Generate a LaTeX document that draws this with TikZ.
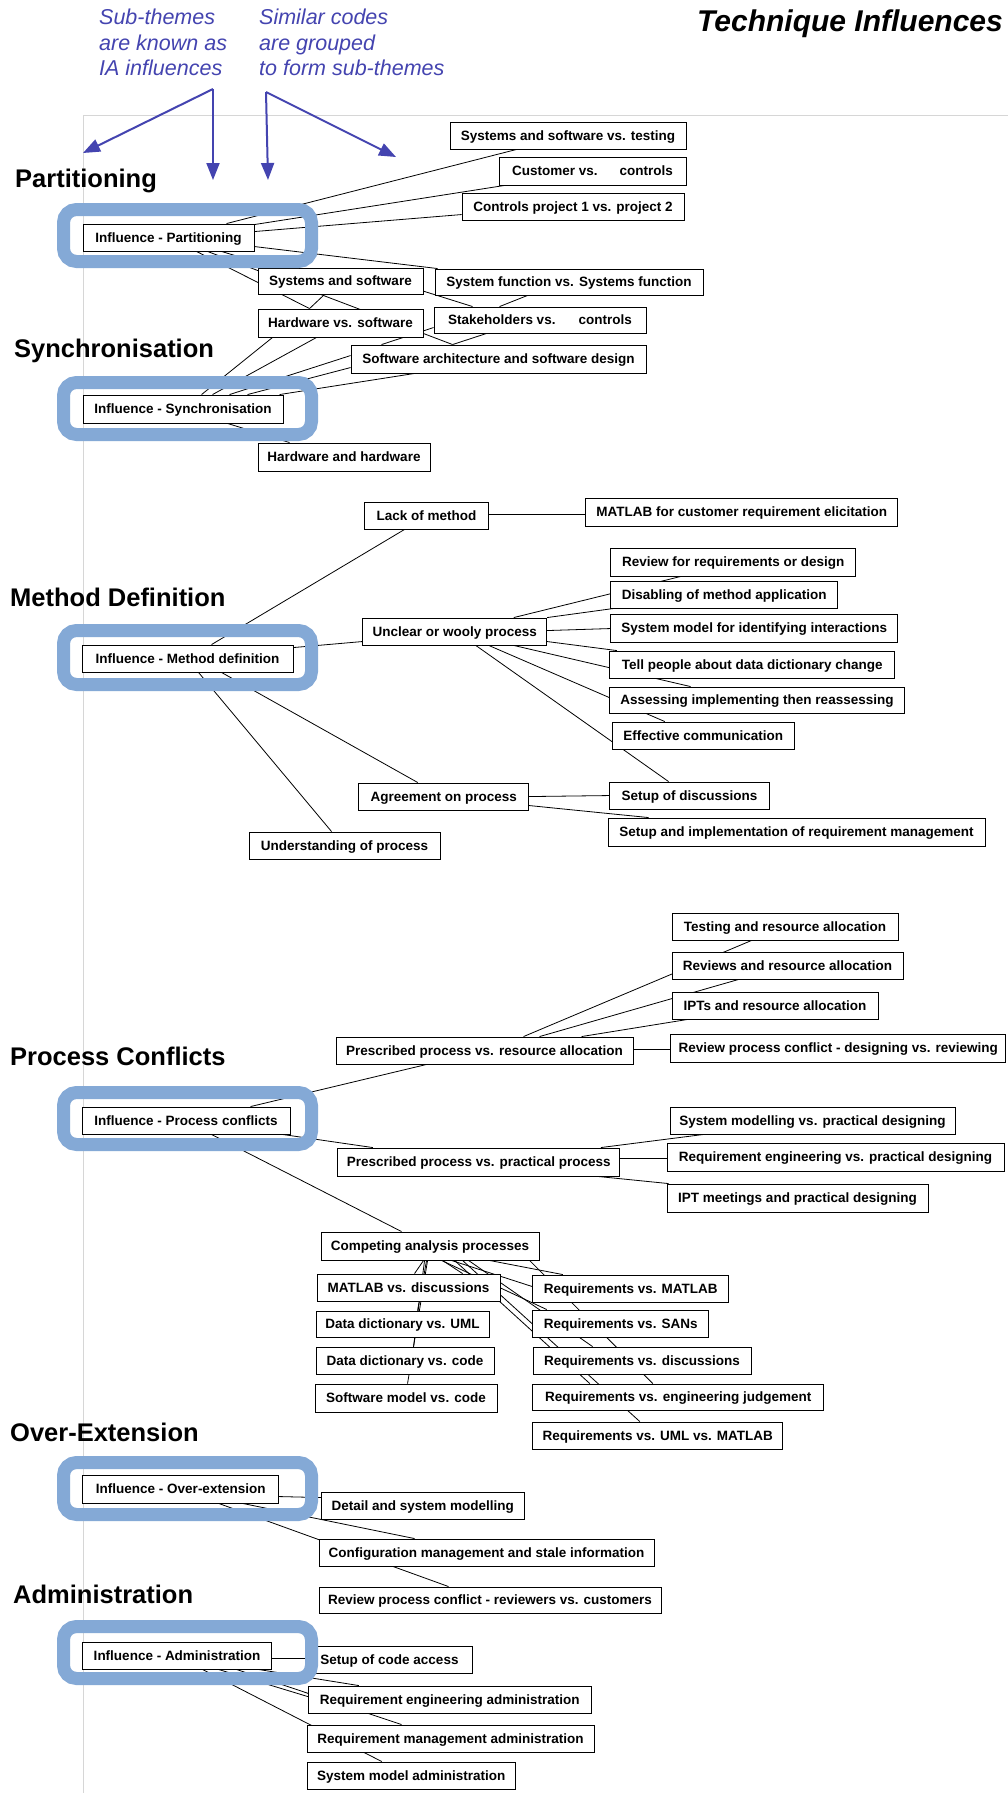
\documentclass[tikz,border=0pt]{standalone}
\usepackage{fontspec}
\setmainfont{Liberation Sans}
\usetikzlibrary{arrows.meta}
\pgfdeclarelayer{under}
\pgfdeclarelayer{over}
\pgfsetlayers{under,main,over}
\definecolor{notecol}{RGB}{68,68,176}
\definecolor{ringcol}{RGB}{132,169,214}
\definecolor{framecol}{RGB}{214,214,214}
\tikzset{
  code/.style={draw, line width=0.9pt, fill=white, inner sep=1pt,
    minimum height=27pt, text height=9.7pt, text depth=0pt,
    font=\fontsize{13.5}{16}\selectfont\bfseries},
  link/.style={draw, line width=0.8pt},
  ring/.style={draw=ringcol, line width=13pt, rounded corners=13pt,
    minimum width=248pt, minimum height=52pt, inner sep=0pt},
  theme/.style={anchor=base west, inner sep=0pt,
    font=\fontsize{25.5}{30}\selectfont\bfseries},
  note/.style={anchor=base west, inner sep=0pt, text=notecol,
    font=\fontsize{21.5}{25}\selectfont\itshape},
  pointer/.style={draw=notecol, line width=2pt,
    -{Triangle[length=17pt,width=13pt]}}
}
\begin{document}
\begin{tikzpicture}[x=1pt,y=-1pt]
\useasboundingbox (0,0) rectangle (1008,1793);

% ---------- headings and notes ----------
\node[anchor=base east, inner sep=0pt, font=\fontsize{30}{36}\selectfont\bfseries\itshape]
  (title) at (1003,32) {Technique Influences};
\node[note] (na1) at (99,25) {Sub-themes};
\node[note] (na2) at (99,51) {are known as};
\node[note] (na3) at (99,76) {IA influences};
\node[note] (nb1) at (259,25) {Similar codes};
\node[note] (nb2) at (259,51) {are grouped};
\node[note] (nb3) at (259,76) {to form sub-themes};
\coordinate (apexL) at (213,89);
\coordinate (apexR) at (266,92);
\coordinate (tipLL) at (83,153);
\coordinate (tipLD) at (213,180);
\coordinate (tipRD) at (268,180);
\coordinate (tipRR) at (396,157);
\draw[pointer] (apexL) -- (tipLL);
\draw[pointer] (apexL) -- (tipLD);
\draw[pointer] (apexR) -- (tipRD);
\draw[pointer] (apexR) -- (tipRR);

\node[theme] (hPart) at (15,187) {Partitioning};
\node[theme] (hSync) at (14,357) {Synchronisation};
\node[theme] (hMeth) at (10,606) {Method Definition};
\node[theme] (hProc) at (10,1065) {Process Conflicts};
\node[theme] (hOver) at (10,1441) {Over-Extension};
\node[theme] (hAdmin) at (13,1603) {Administration};

% ---------- code boxes ----------
% partitioning / synchronisation
\node[code, minimum width=171pt] (ip) at (168.5,237.5) {Influence - Partitioning};
\node[code, minimum width=236pt] (ssvt) at (568,135.5) {Systems and software vs. testing};
\node[code, minimum width=187pt, minimum height=28pt] (cvc) at (592.5,171) {Customer vs.\hspace{22pt}controls};
\node[code, minimum width=222pt] (cp) at (573,206.5) {Controls project 1 vs. project 2};
\node[code, minimum width=165pt, minimum height=26pt] (ss) at (340.5,281) {Systems and software};
\node[code, minimum width=268pt, minimum height=26pt] (sf) at (569,282) {System function vs. Systems function};
\node[code, minimum width=165pt, minimum height=28pt] (hs) at (340.5,323) {Hardware vs. software};
\node[code, minimum width=212pt, minimum height=26pt] (sc) at (540,320) {Stakeholders vs.\hspace{23pt}controls};
\node[code, minimum width=295pt, minimum height=28pt] (sa) at (498.5,359) {Software architecture and software design};
\node[code, minimum width=200pt, minimum height=28pt] (is) at (183,409) {Influence - Synchronisation};
\node[code, minimum width=172pt, minimum height=28pt] (hh) at (344,457) {Hardware and hardware};

% method definition
\node[code, minimum width=124pt] (lm) at (426.5,515.5) {Lack of method};
\node[code, minimum width=312pt, minimum height=28pt] (mcr) at (741.75,512) {MATLAB for customer requirement elicitation};
\node[code, minimum width=245pt, minimum height=28pt] (rrd) at (733.25,562) {Review for requirements or design};
\node[code, minimum width=227pt] (dma) at (724.25,594.5) {Disabling of method application};
\node[code, minimum width=287pt, minimum height=28pt] (smi) at (754.25,628) {System model for identifying interactions};
\node[code, minimum width=184pt] (uwp) at (454.75,631.5) {Unclear or wooly process};
\node[code, minimum width=211pt] (imd) at (187.5,658.5) {Influence - Method definition};
\node[code, minimum width=285pt] (tpd) at (752.25,664.5) {Tell people about data dictionary change};
\node[code, minimum width=295pt, minimum height=26pt] (air) at (757,700) {Assessing implementing then reassessing};
\node[code, minimum width=182pt] (ec) at (703.25,735.5) {Effective communication};
\node[code, minimum width=170pt] (aop) at (443.75,796.5) {Agreement on process};
\node[code, minimum width=160pt] (sod) at (689.5,795.5) {Setup of discussions};
\node[code, minimum width=377pt, minimum height=28pt] (sirm) at (796.5,832) {Setup and implementation of requirement management};
\node[code, minimum width=191pt] (uop) at (344.5,845.5) {Understanding of process};

% process conflicts
\node[code, minimum width=226pt] (tra) at (785,926.5) {Testing and resource allocation};
\node[code, minimum width=231pt] (rra) at (787.5,965.5) {Reviews and resource allocation};
\node[code, minimum width=206pt] (ira) at (775,1005.5) {IPTs and resource allocation};
\node[code, minimum width=297pt] (pra) at (484.5,1050.5) {Prescribed process vs. resource allocation};
\node[code, minimum width=335pt, minimum height=28pt] (rpc) at (838.25,1048) {Review process conflict - designing vs. reviewing};
\node[code, minimum width=208pt] (ipc) at (186,1120.5) {Influence - Process conflicts};
\node[code, minimum width=285pt] (smpd) at (812.5,1120.5) {System modelling vs. practical designing};
\node[code, minimum width=337pt, minimum height=28pt] (repd) at (835.5,1157) {Requirement engineering vs. practical designing};
\node[code, minimum width=282pt, minimum height=28pt] (ppp) at (478.75,1162) {Prescribed process vs. practical process};
\node[code, minimum width=261pt, minimum height=28pt] (iptm) at (797.5,1198) {IPT meetings and practical designing};

% competing analysis processes
\node[code, minimum width=218pt, minimum height=28pt] (cap) at (430,1246) {Competing analysis processes};
\node[code, minimum width=183pt] (mvd) at (408.5,1287.5) {MATLAB vs. discussions};
\node[code, minimum width=173pt, minimum height=26pt] (ddu) at (402.5,1324) {Data dictionary vs. UML};
\node[code, minimum width=178pt] (ddc) at (405,1360.5) {Data dictionary vs. code};
\node[code, minimum width=182pt, minimum height=28pt] (smc) at (406,1398) {Software model vs. code};
\node[code, minimum width=196pt] (rvm) at (630.75,1288.5) {Requirements vs. MATLAB};
\node[code, minimum width=176pt] (rvs) at (620.75,1323.5) {Requirements vs. SANs};
\node[code, minimum width=218pt] (rvd) at (642,1360.5) {Requirements vs. discussions};
\node[code, minimum width=291pt, minimum height=26pt] (rve) at (678.25,1397) {Requirements vs. engineering judgement};
\node[code, minimum width=250pt] (rvu) at (657.75,1435.5) {Requirements vs. UML vs. MATLAB};

% over-extension
\node[code, minimum width=196pt, minimum height=28pt] (ioe) at (180.75,1489) {Influence - Over-extension};
\node[code, minimum width=203pt] (dsm) at (422.75,1505.5) {Detail and system modelling};
\node[code, minimum width=335pt] (cms) at (486.5,1552.5) {Configuration management and stale information};
\node[code, minimum width=342pt, minimum height=26pt] (rpr) at (490,1600) {Review process conflict - reviewers vs. customers};

% administration
\node[code, minimum width=189pt] (iad) at (177,1655.5) {Influence - Administration};
\node[code, minimum width=165pt] (sca) at (389.5,1659.5) {Setup of code access};
\node[code, minimum width=283pt] (rea) at (449.75,1699.5) {Requirement engineering administration};
\node[code, minimum width=287pt] (rma) at (450.5,1738.5) {Requirement management administration};
\node[code, minimum width=208pt] (sya) at (411.25,1775.5) {System model administration};

% ---------- page, frame and connectors (behind the boxes) ----------
\begin{pgfonlayer}{under}
\fill[white] (0,0) rectangle (1008,1793);
\draw[framecol, line width=1pt] (83,1793) -- (83,115) -- (1008,115);

% partitioning / synchronisation
\draw[link] ([xshift=144pt]ip.north west) -- ([xshift=67pt]ssvt.south west);
\draw[link] ([yshift=-1pt]ip.north east) -- ([xshift=6pt]cvc.south west);
\draw[link] ([yshift=-8pt]ip.north east) -- ([yshift=-22pt]cp.north west);
\draw[link] ([yshift=-23pt]ip.north east) -- ([xshift=3pt]sf.north west);
\draw[link] ([xshift=114pt]ip.south west) -- ([xshift=52pt]hs.north west);
\draw[link] ([xshift=125pt]ip.south west) -- ([xshift=102pt]sa.north west);
\draw[link] ([xshift=139pt]ip.south west) -- ([xshift=17pt]ss.north west);
\draw[link] ([yshift=-23.6pt]ss.north east) -- ([xshift=39pt]sc.north west);
\draw[link] ([xshift=93pt]sf.south west) -- ([xshift=66pt]sc.north west);
\draw[link] ([xshift=67pt]ss.south west) -- ([xshift=52pt]hs.north west);
\draw[link] ([xshift=53pt]sc.south west) -- ([xshift=102pt]sa.north west);
\draw[link] ([xshift=31pt]sa.north west) -- ([yshift=-21pt]sc.north west);
\draw[link] ([xshift=119pt]is.north west) -- ([xshift=15pt]hs.south west);
\draw[link] ([xshift=130pt]is.north west) -- ([xshift=59pt]hs.south west);
\draw[link] ([xshift=147pt]is.north west) -- ([yshift=-11pt]sa.north west);
\draw[link] ([xshift=165pt]is.north west) -- ([yshift=-23pt]sa.north west);
\draw[link] ([xshift=197pt]is.north west) -- ([xshift=64pt]sa.south west);
\draw[link] ([xshift=145pt]is.south west) -- ([xshift=32pt]hh.north west);

% method definition
\draw[link] ([xshift=130pt]imd.north west) -- ([xshift=40.5pt]lm.south west);
\draw[link] ([yshift=-13pt]lm.north east) -- ([yshift=-17pt]mcr.north west);
\draw[link] ([yshift=-3pt]imd.north east) -- ([yshift=-24pt]uwp.north west);
\draw[link] ([xshift=151.5pt]uwp.north west) -- ([xshift=70.5pt]rrd.south west);
\draw[link] (uwp.north east) -- ([xshift=3.5pt]dma.south west);
\draw[link] ([yshift=-13pt]uwp.north east) -- ([yshift=-15pt]smi.north west);
\draw[link] ([yshift=-24pt]uwp.north east) -- ([xshift=7.5pt]tpd.north west);
\draw[link] ([xshift=151.5pt]uwp.south west) -- ([xshift=81.5pt]air.north west);
\draw[link] ([xshift=126.5pt]uwp.south west) -- ([xshift=53pt]ec.north west);
\draw[link] ([xshift=113.5pt]uwp.south west) -- ([xshift=59.5pt]sod.north west);
\draw[link] ([xshift=140pt]imd.south west) -- ([xshift=59.5pt]aop.north west);
\draw[link] ([xshift=117pt]imd.south west) -- ([xshift=83pt]uop.north west);
\draw[link] ([yshift=-14pt]aop.north east) -- ([yshift=-14pt]sod.north west);
\draw[link] ([yshift=-23pt]aop.north east) -- ([xshift=41pt]sirm.north west);

% process conflicts
\draw[link] ([xshift=169pt]ipc.north west) -- ([xshift=91pt]pra.south west);
\draw[link] ([xshift=188pt]pra.north west) -- ([xshift=80pt]tra.south west);
\draw[link] ([xshift=204pt]pra.north west) -- ([xshift=67pt]rra.south west);
\draw[link] ([xshift=246pt]pra.north west) -- ([xshift=16pt]ira.south west);
\draw[link] ([yshift=-13pt]pra.north east) -- ([yshift=-16pt]rpc.north west);
\draw[link] ([xshift=201pt]ipc.south west) -- ([xshift=35.5pt]ppp.north west);
\draw[link] ([xshift=263.5pt]ppp.north west) -- ([xshift=34pt]smpd.south west);
\draw[link] ([yshift=-11pt]ppp.north east) -- ([yshift=-16pt]repd.north west);
\draw[link] ([xshift=260.5pt]ppp.south west) -- ([xshift=2pt]iptm.north west);
\draw[link] ([xshift=130pt]ipc.south west) -- ([xshift=81pt]cap.north west);

% competing analysis processes
\draw[link] ([xshift=103pt]cap.south west) -- ([xshift=98pt]mvd.north west);
\draw[link] ([xshift=106pt]cap.south west) -- ([xshift=102pt]ddu.north west);
\draw[link] ([xshift=104pt]cap.south west) -- ([xshift=98pt]ddc.north west);
\draw[link] ([xshift=107pt]cap.south west) -- ([xshift=93pt]smc.north west);
\draw[link] ([xshift=122pt]cap.south west) -- ([xshift=146pt]mvd.north west);
\draw[link] ([xshift=169pt]cap.south west) -- ([xshift=30.5pt]rvm.north west);
\draw[link] ([xshift=131pt]cap.south west) -- ([yshift=-12pt]rvm.north west);
\draw[link] ([xshift=121pt]cap.south west) -- ([xshift=14.5pt]rvs.north west);
\draw[link] ([xshift=148pt]cap.south west) -- ([xshift=60pt]rvd.north west);
\draw[link] ([xshift=134pt]cap.south west) -- ([xshift=57.5pt]rve.north west);
\draw[link] ([xshift=209pt]cap.south west) -- ([xshift=120.5pt]rve.north west);
\draw[link] ([xshift=142pt]cap.south west) -- ([xshift=107.5pt]rvu.north west);

% over-extension
\draw[link] ([yshift=-22pt]ioe.north east) -- ([yshift=-6pt]dsm.north west);
\draw[link] ([xshift=160.5pt]ioe.south west) -- ([xshift=96pt]cms.north west);
\draw[link] ([xshift=136.5pt]ioe.south west) -- ([xshift=130pt]rpr.north west);

% administration
\draw[link] ([yshift=-17pt]iad.north east) -- ([yshift=-13pt]sca.north west);
\draw[link] ([xshift=136.5pt]iad.south west) -- ([yshift=-11pt]rea.north west);
\draw[link] ([xshift=176.5pt]iad.south west) -- ([xshift=51pt]rea.north west);
\draw[link] ([xshift=154.5pt]iad.south west) -- ([xshift=95pt]rma.north west);
\draw[link] ([xshift=120.5pt]iad.south west) -- ([xshift=75pt]sya.north west);
\end{pgfonlayer}

% ---------- influence rings (on top) ----------
\begin{pgfonlayer}{over}
\node[ring] (ringP) at (187.5,235.5) {};
\node[ring] (ringS) at (187.5,408.5) {};
\node[ring, minimum height=54pt] (ringM) at (187.5,657.5) {};
\node[ring] (ringC) at (187.5,1118.5) {};
\node[ring] (ringO) at (187.5,1488.5) {};
\node[ring] (ringA) at (187.5,1652.5) {};
\end{pgfonlayer}
\end{tikzpicture}
\end{document}
